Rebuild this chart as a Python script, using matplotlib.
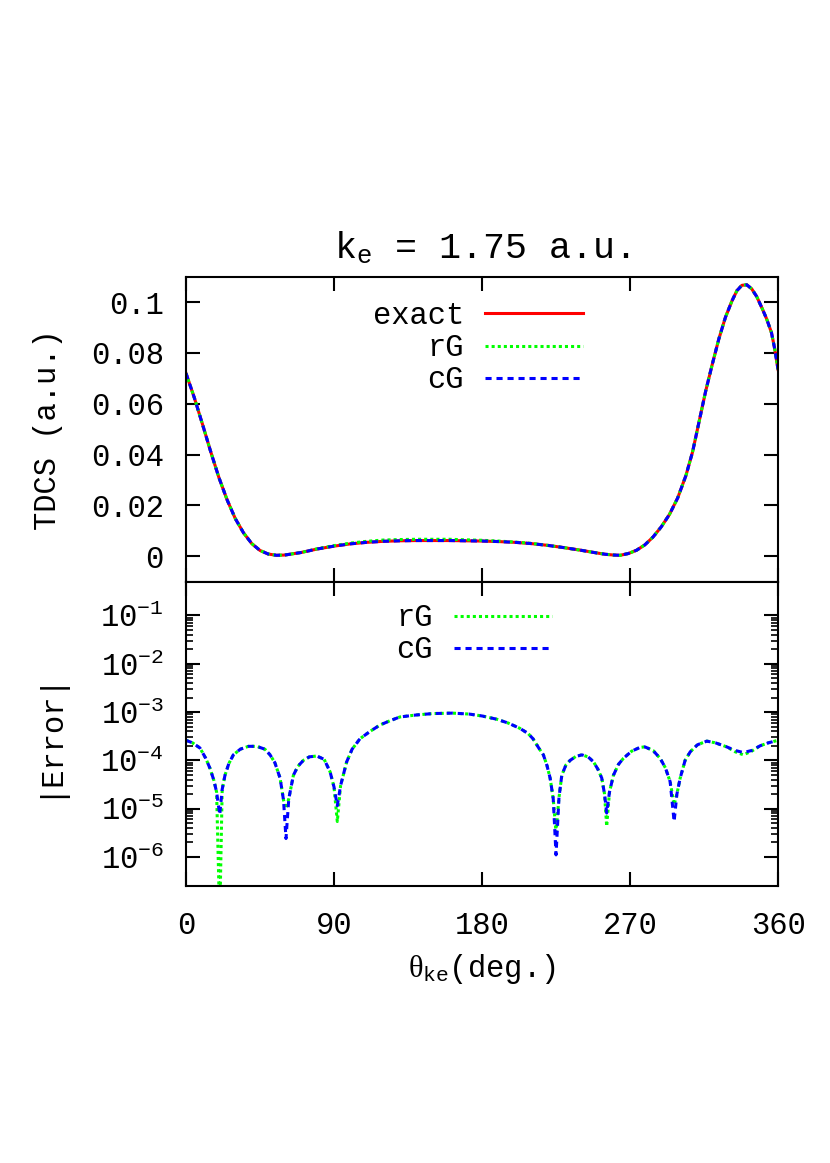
import matplotlib
matplotlib.use("Agg")
import matplotlib.pyplot as plt
from matplotlib.ticker import FixedLocator, LogFormatterMathtext, NullFormatter

plt.rcParams['font.family'] = ['Liberation Mono', 'DejaVu Sans']
plt.rcParams['mathtext.fontset'] = 'custom'
plt.rcParams['mathtext.rm'] = 'Liberation Mono'
plt.rcParams['mathtext.it'] = 'Liberation Serif'
plt.rcParams['font.size'] = 22

# ---- top panel: TDCS (a.u.) vs angle ----
theta_top = [0, 5, 10, 15, 20, 25, 30, 35, 40, 45, 50, 55, 60, 70, 80, 90, 100, 110,
             120, 130, 140, 150, 160, 170, 180, 190, 200, 210, 220, 230, 240, 250, 255,
             260, 264, 269, 274, 279, 284, 289, 294, 299, 304, 308, 312, 316, 320, 324,
             328, 332, 335, 338, 341, 344, 347, 350, 353, 356, 358, 360]
tdcs_exact = [0.0720, 0.0625, 0.0520, 0.0412, 0.0310, 0.0222, 0.0148, 0.0092, 0.0050,
              0.0023, 0.0009, 0.0004, 0.0005, 0.0015, 0.0029, 0.0040, 0.0049, 0.0055,
              0.0059, 0.0061, 0.0062, 0.0062, 0.0062, 0.0061, 0.0060, 0.0058, 0.0055,
              0.0050, 0.0043, 0.0034, 0.0024, 0.0013, 0.0008, 0.0005, 0.0004, 0.0011,
              0.0024, 0.0045, 0.0076, 0.0116, 0.0165, 0.0230, 0.0318, 0.0410, 0.0530,
              0.0650, 0.0755, 0.0855, 0.0940, 0.1005, 0.1045, 0.1066, 0.1068, 0.1052,
              0.1022, 0.0980, 0.0935, 0.0880, 0.0815, 0.0735]
tdcs_rG = [0.0720, 0.0625, 0.0520, 0.0412, 0.0310, 0.0222, 0.0148, 0.0092, 0.0050,
           0.0023, 0.0009, 0.0004, 0.0005, 0.0015, 0.0030, 0.0042, 0.0052, 0.0059,
           0.0064, 0.0066, 0.0067, 0.0067, 0.0067, 0.0065, 0.0063, 0.0060, 0.0056,
           0.0051, 0.0043, 0.0034, 0.0024, 0.0013, 0.0008, 0.0005, 0.0004, 0.0011,
           0.0024, 0.0045, 0.0076, 0.0116, 0.0165, 0.0230, 0.0318, 0.0410, 0.0530,
           0.0650, 0.0755, 0.0855, 0.0940, 0.1005, 0.1045, 0.1066, 0.1068, 0.1052,
           0.1022, 0.0980, 0.0935, 0.0880, 0.0815, 0.0735]
tdcs_cG = tdcs_exact

# ---- bottom panel: |Error| vs angle ----
theta_err = [0, 4, 8.5, 12, 14.6, 17, 18.6, 20.5, 22, 23.7, 26, 28.8, 33, 38, 43, 48,
             51.1, 54, 57.2, 59.3, 60.8, 62.5, 65.3, 68, 71.4, 75, 79.5, 84, 87.6, 90,
             92, 94, 97.7, 101, 105.8, 112, 118, 124, 130, 140, 150, 162, 172, 180, 189,
             196, 203, 208, 211, 214.5, 217.3, 219.5, 221.4, 223.3, 225, 226.8, 228.5,
             231, 233.6, 237, 240.7, 244.5, 247.8, 250.5, 252.8, 254.5, 255.8, 257.5,
             259.9, 263, 266, 271, 276, 279, 284, 288.3, 291.5, 294.4, 296.8, 298.5,
             300.5, 303.5, 306.6, 311, 316.7, 322, 328.8, 334, 338.9, 344, 349.1, 354, 360]
err_cG = [2.6e-4, 2.3e-4, 1.8e-4, 1.1e-4, 6.8e-5, 3.8e-5, 2.2e-5, 7.5e-6, 2.5e-5, 4.9e-5,
          8.5e-5, 1.3e-4, 1.7e-4, 1.95e-4, 1.95e-4, 1.7e-4, 1.3e-4, 9.0e-5, 4.3e-5, 1.5e-5,
          2.4e-6, 1.6e-5, 4.9e-5, 7.5e-5, 1.0e-4, 1.18e-4, 1.23e-4, 1.05e-4, 5.8e-5, 2.8e-5,
          1.15e-5, 3.0e-5, 9.3e-5, 1.7e-4, 2.8e-4, 4.0e-4, 5.4e-4, 6.6e-4, 7.9e-4, 8.7e-4,
          9.3e-4, 9.5e-4, 9.1e-4, 8.3e-4, 7.1e-4, 5.9e-4, 4.6e-4, 3.6e-4, 2.8e-4, 1.8e-4,
          1.3e-4, 7.8e-5, 4.3e-5, 1.6e-5, 1.1e-6, 1.7e-5, 4.9e-5, 8.0e-5, 1.0e-4, 1.2e-4,
          1.3e-4, 1.18e-4, 9.3e-5, 6.5e-5, 4.3e-5, 2.0e-5, 8.1e-6, 2.2e-5, 4.9e-5, 8.3e-5,
          1.1e-4, 1.55e-4, 1.85e-4, 1.9e-4, 1.6e-4, 1.1e-4, 7.0e-5, 3.6e-5, 5.4e-6, 2.0e-5,
          4.3e-5, 1.0e-4, 1.5e-4, 2.1e-4, 2.5e-4, 2.3e-4, 1.9e-4, 1.6e-4, 1.45e-4, 1.6e-4,
          2.0e-4, 2.3e-4, 2.6e-4]
err_rG = [2.6e-4, 2.3e-4, 1.8e-4, 1.1e-4, 6.8e-5, 3.8e-5, 2.2e-5, 5.0e-8, 2.5e-5, 4.9e-5,
          8.5e-5, 1.3e-4, 1.7e-4, 1.95e-4, 1.95e-4, 1.7e-4, 1.3e-4, 9.0e-5, 4.3e-5, 1.5e-5,
          1.0e-5, 1.6e-5, 4.9e-5, 7.5e-5, 1.0e-4, 1.18e-4, 1.23e-4, 1.05e-4, 5.8e-5, 2.8e-5,
          5.4e-6, 3.0e-5, 9.3e-5, 1.7e-4, 2.8e-4, 4.0e-4, 5.4e-4, 6.6e-4, 7.9e-4, 8.7e-4,
          9.3e-4, 9.5e-4, 9.1e-4, 8.3e-4, 7.1e-4, 5.9e-4, 4.6e-4, 3.6e-4, 2.8e-4, 1.8e-4,
          1.3e-4, 7.8e-5, 4.3e-5, 1.6e-5, 3.2e-6, 1.7e-5, 4.9e-5, 8.0e-5, 1.0e-4, 1.2e-4,
          1.3e-4, 1.18e-4, 9.3e-5, 6.5e-5, 4.3e-5, 2.0e-5, 4.3e-6, 2.2e-5, 4.9e-5, 8.3e-5,
          1.1e-4, 1.55e-4, 1.85e-4, 1.9e-4, 1.6e-4, 1.1e-4, 7.0e-5, 3.6e-5, 1.2e-5, 2.0e-5,
          4.3e-5, 1.0e-4, 1.5e-4, 2.1e-4, 2.5e-4, 2.3e-4, 1.9e-4, 1.5e-4, 1.3e-4, 1.55e-4,
          2.0e-4, 2.3e-4, 2.6e-4]

angle_ticks = [0, 90, 180, 270, 360]
tdcs_ticks = [0, 0.02, 0.04, 0.06, 0.08, 0.1]
tdcs_labels = ['0', '0.02', '0.04', '0.06', '0.08', '0.1']
err_major = [1e-6, 1e-5, 1e-4, 1e-3, 1e-2, 1e-1]
err_minor = [m * 10.0 ** e for e in range(-6, -1) for m in range(2, 10)]

fig = plt.figure(figsize=(8.3, 11.63), dpi=100)
ax1 = fig.add_axes([0.2241, 0.4998, 0.7133, 0.2623])
ax2 = fig.add_axes([0.2241, 0.2382, 0.7133, 0.2616])

lw = 2.2
ax1.plot(theta_top, tdcs_exact, color='#ff0000', lw=lw, label='exact')
ax1.plot(theta_top, tdcs_rG, color='#00ff00', lw=lw, dashes=(1, 1), label='rG')
ax1.plot(theta_top, tdcs_cG, color='#0000ff', lw=lw, dashes=(2, 1.6), label='cG')

ax2.plot(theta_err, err_rG, color='#00ff00', lw=lw, dashes=(1, 1), label='rG')
ax2.plot(theta_err, err_cG, color='#0000ff', lw=lw, dashes=(2, 1.6), label='cG')

ax1.set_xlim(0, 360)
ax1.set_ylim(-0.01, 0.11)
ax1.set_xticks(angle_ticks)
ax1.set_yticks(tdcs_ticks)
ax1.set_yticklabels(tdcs_labels)
ax1.tick_params(labelbottom=False)

ax2.set_xlim(0, 360)
ax2.set_yscale('log')
ax2.set_ylim(2.5e-7, 0.5)
ax2.set_xticks(angle_ticks)
ax2.yaxis.set_major_locator(FixedLocator(err_major))
ax2.yaxis.set_major_formatter(LogFormatterMathtext())
ax2.yaxis.set_minor_locator(FixedLocator(err_minor))
ax2.yaxis.set_minor_formatter(NullFormatter())

for ax in (ax1, ax2):
    ax.tick_params(which='major', direction='in', top=True, right=True,
                   length=10, width=1.5, pad=16)
    ax.tick_params(which='minor', direction='in', top=True, right=True,
                   length=5, width=1.2)
    for sp in ax.spines.values():
        sp.set_linewidth(1.5)
ax2.tick_params(axis='x', pad=18)

ax1.set_title('k$_\\mathrm{e}$ = 1.75 a.u.', pad=13)
ax1.set_ylabel('TDCS (a.u.)')
ax1.yaxis.set_label_coords(-0.207, 0.5)
ax2.set_ylabel('|Error|')
ax2.yaxis.set_label_coords(-0.207, 0.5)
ax2.set_xlabel('$\\theta_{\\mathrm{ke}}$(deg.)', labelpad=8)

ax1.legend(loc='upper right', bbox_to_anchor=(0.671, 0.92), markerfirst=False,
           frameon=False, handlelength=3.2, handletextpad=0.7, labelspacing=0.07,
           borderaxespad=0, borderpad=0)
ax2.legend(loc='upper right', bbox_to_anchor=(0.618, 0.929), markerfirst=False,
           frameon=False, handlelength=3.2, handletextpad=0.7, labelspacing=0.07,
           borderaxespad=0, borderpad=0)

fig.savefig('out.png', dpi=100)
